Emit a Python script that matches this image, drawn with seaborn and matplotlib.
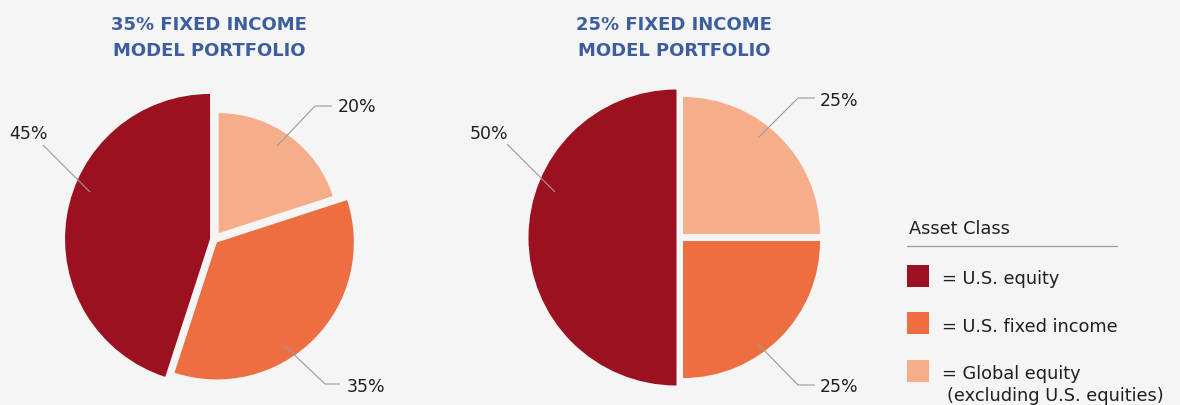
import matplotlib
matplotlib.use("Agg")
import matplotlib.pyplot as plt
import seaborn as sns
from matplotlib.patches import Rectangle

# Data
asset_classes = ["U.S. equity", "U.S. fixed income", "Global equity"]
legend_note = "(excluding U.S. equities)"
titles = ["35% FIXED INCOME\nMODEL PORTFOLIO", "25% FIXED INCOME\nMODEL PORTFOLIO"]
portfolio_35 = [45, 35, 20]
portfolio_25 = [50, 25, 25]

colors = ["#9b111f", "#ed6e40", "#f6ae8a"]
bg = "#f5f5f5"
title_color = "#3d5e9e"
text_color = "#231f20"
line_color = "#9a9a9a"

W, H = 1180, 406


def py(y):
    # pixel row (from top) -> data y (from bottom)
    return H - y


sns.set_theme(style="white")
plt.rcParams["font.family"] = ["DejaVu Sans"]

fig = plt.figure(figsize=(W / 100, H / 100), dpi=100, facecolor=bg)
ax = fig.add_axes([0, 0, 1, 1])
ax.set_facecolor(bg)

# layout of each pie: center, radius, per-wedge radius scale, explode (px)
pies = [
    dict(values=portfolio_35, title=titles[0], center=(214, 240.6), radius=145,
         scales=[1.0, 137 / 145, 120 / 145], explode=[4, 4, 8], title_x=209,
         leaders=[
             ([(90, 193), (43, 146)], (48, 139), "right"),
             ([(284, 346), (325, 385), (340, 385)], (347, 392), "left"),
             ([(277, 147), (315, 107), (332, 107)], (338, 112), "left"),
         ]),
    dict(values=portfolio_25, title=titles[1], center=(679.5, 238.5), radius=148,
         scales=[1.0, 137 / 148, 137 / 148], explode=[3, 5, 5], title_x=674,
         leaders=[
             ([(555, 193), (507, 145)], (508, 139), "right"),
             ([(758, 345), (798, 386), (815, 386)], (820, 392), "left"),
             ([(758, 139), (798, 99), (815, 99)], (820, 106), "left"),
         ]),
]

for p in pies:
    cx, cy = p["center"]
    wedges, _ = ax.pie(p["values"], colors=colors, startangle=90, counterclock=True,
                       center=(cx, py(cy)), radius=p["radius"], explode=p["explode"],
                       wedgeprops=dict(linewidth=0), frame=True)
    for w, s in zip(wedges, p["scales"]):
        w.set_radius(p["radius"] * s)

    line1, line2 = p["title"].split("\n")
    ax.text(p["title_x"], py(30), line1, ha="center", va="baseline",
            fontsize=13, fontweight="bold", color=title_color)
    ax.text(p["title_x"], py(56), line2, ha="center", va="baseline",
            fontsize=13, fontweight="bold", color=title_color)

    for v, (pts, tpos, ha) in zip(p["values"], p["leaders"]):
        xs = [a for a, b in pts]
        ys = [py(b) for a, b in pts]
        ax.plot(xs, ys, color=line_color, lw=0.8, solid_capstyle="butt")
        ax.text(tpos[0], py(tpos[1]), f"{v}%", ha=ha, va="baseline",
                fontsize=12.5, color=text_color)

# legend
ax.text(909, py(234), "Asset Class", ha="left", va="baseline", fontsize=12.8, color=text_color)
ax.plot([907, 1117], [py(247), py(247)], color=line_color, lw=0.9)
box_tops = [266, 313, 361]
baselines = [284, 332, 379]
for c, name, top, base in zip(colors, asset_classes, box_tops, baselines):
    ax.add_patch(Rectangle((907, py(top + 22)), 22, 22, facecolor=c, edgecolor="none"))
    ax.text(942, py(base), f"= {name}", ha="left", va="baseline", fontsize=12.8, color=text_color)
ax.text(947, py(401), legend_note, ha="left", va="baseline", fontsize=12.8, color=text_color)

ax.set_xlim(0, W)
ax.set_ylim(0, H)
ax.set_aspect("equal")
ax.axis("off")

fig.savefig("out.png", dpi=100, facecolor=bg)
